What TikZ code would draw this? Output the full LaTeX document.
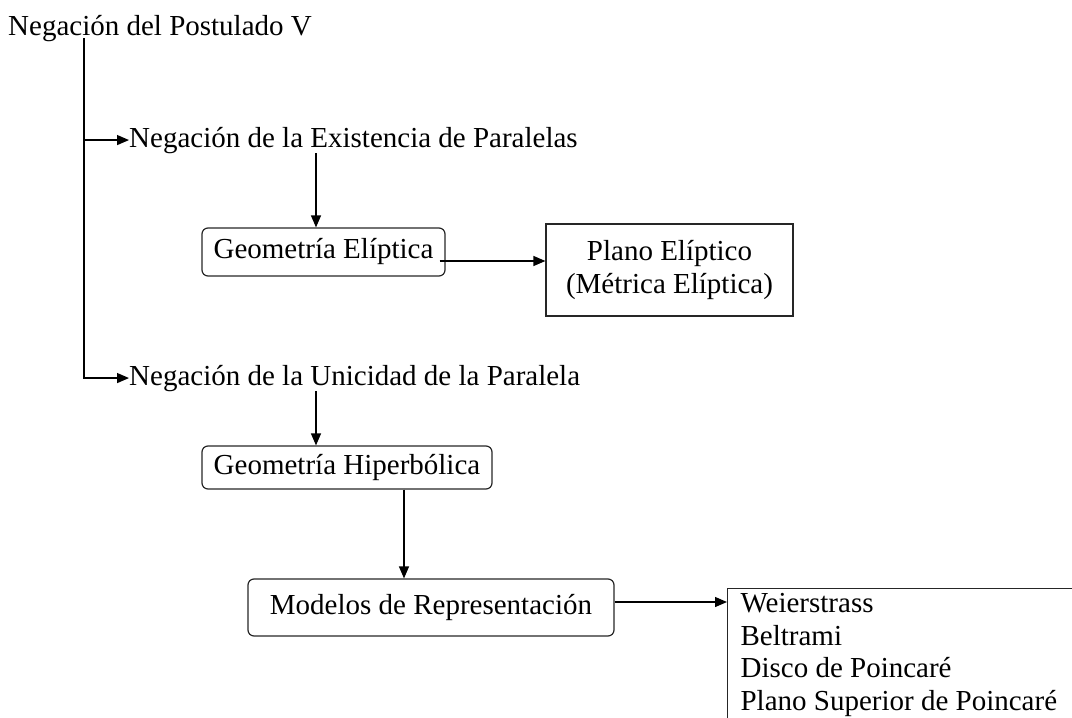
\documentclass[tikz,border=0pt]{standalone}
\usepackage{fontspec}
\setmainfont{Liberation Serif}
\usetikzlibrary{arrows.meta,calc}
\begin{document}
\begin{tikzpicture}[x=1pt,y=-1pt,
  every node/.style={font=\fontsize{29}{33.5}\selectfont, inner sep=0pt, text=black},
  lbl/.style={anchor=base west},
  rbox/.style={draw=black!85, rounded corners=6pt, line width=1.2pt},
  sbox/.style={draw=black!85, line width=1.2pt},
  conn/.style={line width=1.3pt, draw=black},
  arr/.style={conn, -{Triangle[length=12pt,width=10pt]}}]
\useasboundingbox (0,0) rectangle (1072,718);
\clip (0,0) rectangle (1072,718);

% text nodes
\node[lbl] (top) at (8,35) {Negación del Postulado V};
\node[lbl] (n1) at (129,147) {Negación de la Existencia de Paralelas};
\node[lbl] (n2) at (129,385) {Negación de la Unicidad de la Paralela};

% boxes
\node[rbox, minimum width=243pt, minimum height=48pt] (e1) at (323.5,252) {Geometría Elíptica};
\node[sbox, minimum width=247pt, minimum height=92pt, align=flush center] (e2) at (669.5,270) {Plano Elíptico\\ (Métrica Elíptica)};
\node[rbox, minimum width=290pt, minimum height=43pt] (h1) at (347,467.5) {Geometría Hiperbólica};
\node[rbox, minimum width=366pt, minimum height=57pt] (m1) at (431,607.5) {Modelos de Representación};
\node[sbox, anchor=north west, text width=400pt, align=flush left, inner xsep=13pt, inner ysep=5pt,
      font=\fontsize{29}{32.5}\selectfont] (list) at (727,588)
  {Weierstrass\\Beltrami\\Disco de Poincaré\\Plano Superior de Poincaré};

% helper coordinates
\coordinate (trunk) at (84,38);
\coordinate (c1) at (316,0);
\coordinate (c3) at (404,0);
\coordinate (a1) at ([xshift=-6pt,yshift=-9pt]e1.east);
\coordinate (a2) at ([yshift=5.5pt]m1.east);

% connectors
\draw[arr] (trunk) |- (n2.west);
\draw[arr] (trunk |- n1.west) -- (n1.west);
\draw[arr] (n1.south -| c1) -- (e1.north -| c1);
\draw[arr] (a1) -- (a1 -| e2.west);
\draw[arr] (n2.south -| c1) -- (h1.north -| c1);
\draw[arr] (h1.south -| c3) -- (m1.north -| c3);
\draw[arr] (a2) -- (a2 -| list.west);
\end{tikzpicture}
\end{document}
